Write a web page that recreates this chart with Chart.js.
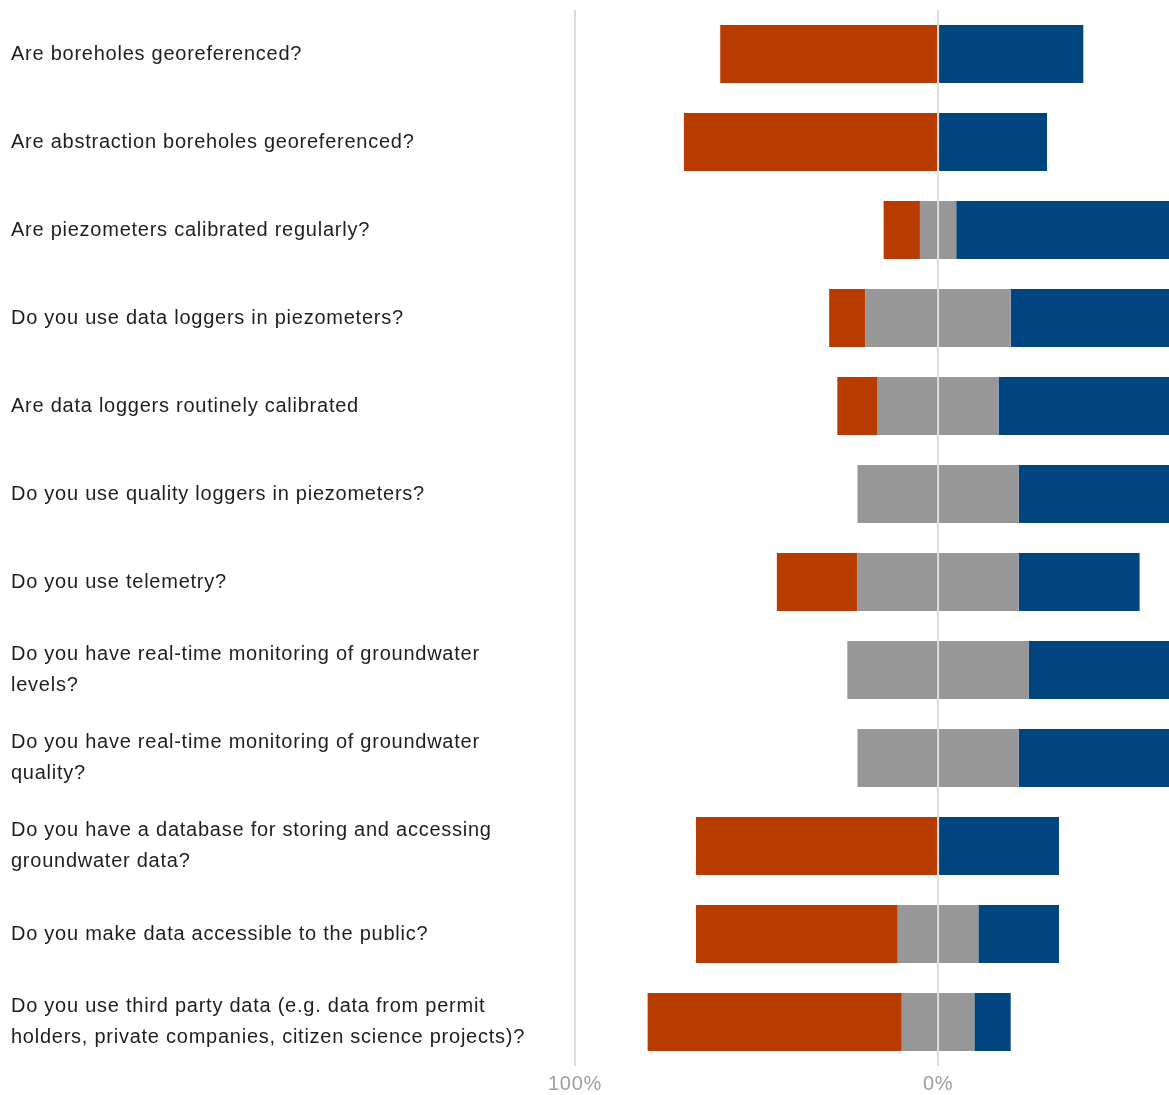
<!DOCTYPE html>
<html>
<head>
<meta charset="utf-8">
<script src="https://cdn.jsdelivr.net/npm/chart.js@4/dist/chart.umd.min.js"></script>
<style>
  html, body { margin: 0; padding: 0; background: #ffffff; }
  #wrap { width: 1169px; height: 1095px; position: relative; }
</style>
</head>
<body>
<div id="wrap"><canvas id="c"></canvas></div>
<script>
const categories = [
  "Are boreholes georeferenced?",
  "Are abstraction boreholes georeferenced?",
  "Are piezometers calibrated regularly?",
  "Do you use data loggers in piezometers?",
  "Are data loggers routinely calibrated",
  "Do you use quality loggers in piezometers?",
  "Do you use telemetry?",
  ["Do you have real-time monitoring of groundwater", "levels?"],
  ["Do you have real-time monitoring of groundwater", "quality?"],
  ["Do you have a database for storing and accessing", "groundwater data?"],
  "Do you make data accessible to the public?",
  ["Do you use third party data (e.g. data from permit", "holders, private companies, citizen science projects)?"]
];
const noPct      = [60, 70, 10, 10, 11.1, 0,    22.2, 0,  0,    66.7, 55.6, 70];
const neutralPct = [0,  0,  10, 40, 33.3, 44.4, 44.4, 50, 44.4, 0,    22.2, 20];
const yesPct     = [40, 30, 80, 50, 55.6, 55.6, 33.3, 50, 55.6, 33.3, 22.2, 10];
const tickValues = [-100, 0];
const tickLabels = ["100%", "0%"];

const RED = "#B83C00", GRAY = "#979797", BLUE = "#00457F";
const FONT = "'Liberation Sans', Arial, sans-serif";

const spacingPlugin = {
  id: 'spacing',
  beforeLayout(chart) { chart.ctx.letterSpacing = '0.75px'; },
  beforeDraw(chart) { chart.ctx.letterSpacing = '0.75px'; }
};

const common = { stack: 's', barPercentage: 1, categoryPercentage: 0.66, borderWidth: 0 };

new Chart(document.getElementById('c'), {
  type: 'bar',
  data: {
    labels: categories,
    datasets: [
      Object.assign({ label: 'Neutral (left)', data: neutralPct.map(v => -v / 2), backgroundColor: GRAY }, common),
      Object.assign({ label: 'Neutral (right)', data: neutralPct.map(v => v / 2), backgroundColor: GRAY }, common),
      Object.assign({ label: 'No', data: noPct.map(v => -v), backgroundColor: RED }, common),
      Object.assign({ label: 'Yes', data: yesPct, backgroundColor: BLUE }, common)
    ]
  },
  options: {
    indexAxis: 'y',
    responsive: true,
    maintainAspectRatio: false,
    animation: false,
    layout: { padding: { left: 11, right: 0, top: 10, bottom: 0 } },
    plugins: { legend: { display: false }, tooltip: { enabled: false } },
    scales: {
      x: {
        stacked: true,
        min: -100,
        max: 63.6,
        z: 1,
        border: { display: false },
        grid: { color: '#dddddd', lineWidth: 2, drawTicks: false },
        afterBuildTicks(scale) { scale.ticks = tickValues.map(v => ({ value: v })); },
        afterFit(scale) { scale.height = 29; scale.paddingLeft = 0; scale.paddingRight = 0; },
        ticks: {
          padding: 6,
          color: '#9e9e9e',
          font: { family: FONT, size: 20 },
          callback(value) { const i = tickValues.indexOf(value); return i >= 0 ? tickLabels[i] : ''; }
        }
      },
      y: {
        stacked: true,
        border: { display: false },
        grid: { display: false },
        afterFit(scale) { scale.width = 564; scale.paddingTop = 0; scale.paddingBottom = 0; },
        ticks: {
          crossAlign: 'far',
          color: '#1e1e1e',
          font: { family: FONT, size: 20, lineHeight: 1.55 },
          autoSkip: false
        }
      }
    }
  },
  plugins: [spacingPlugin]
});
</script>
</body>
</html>
